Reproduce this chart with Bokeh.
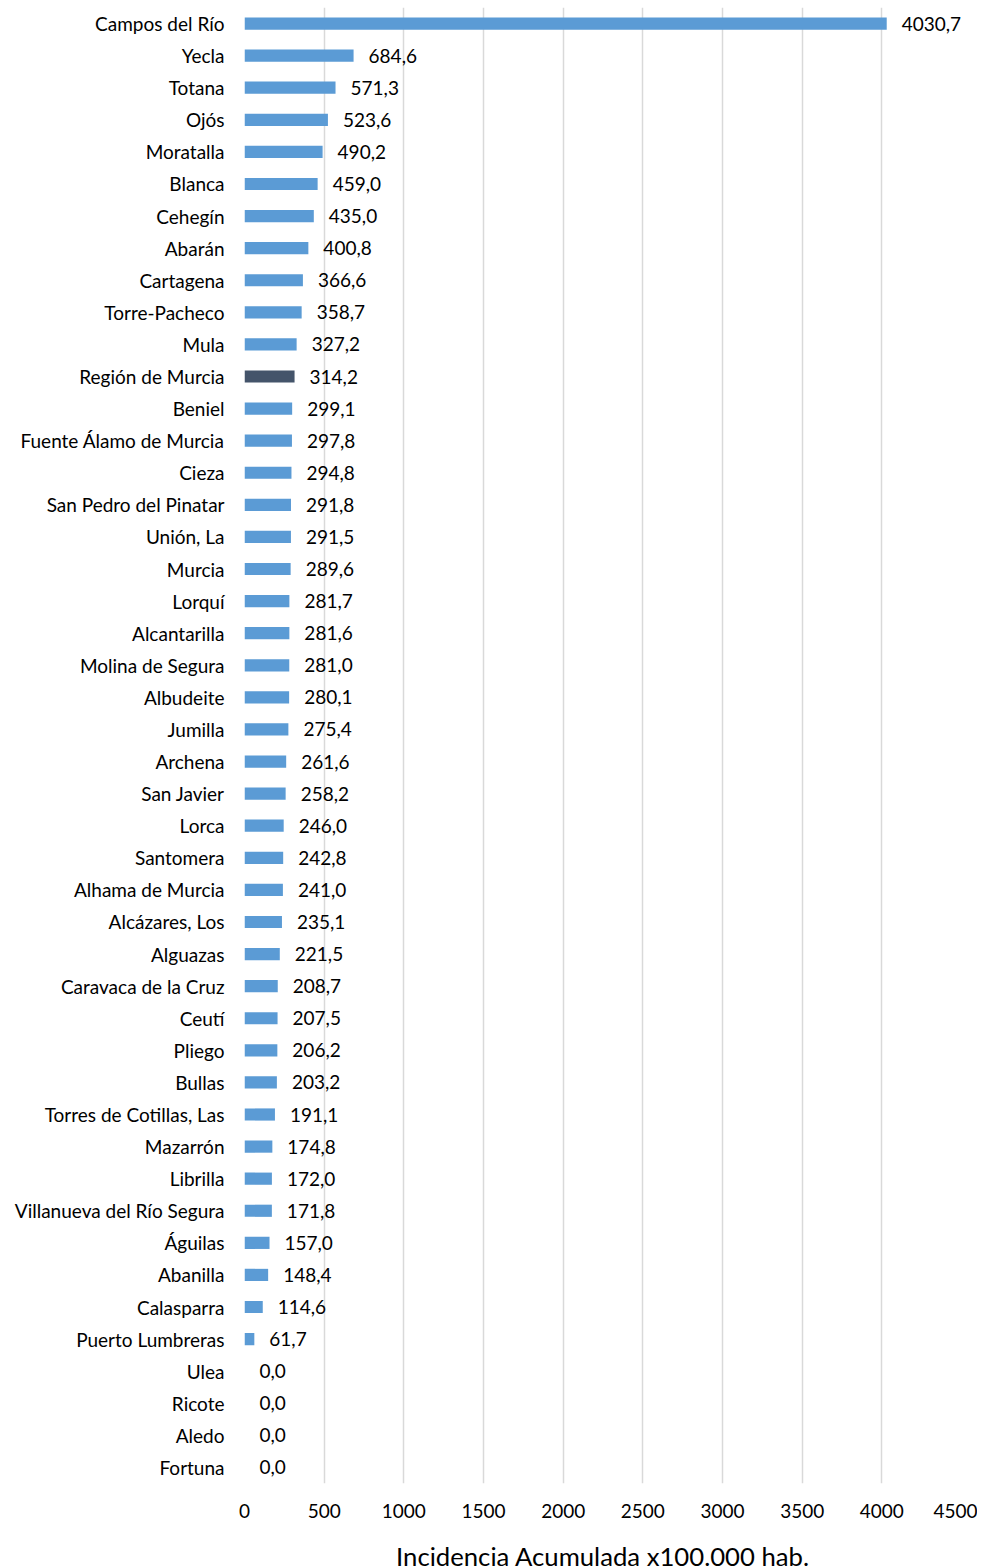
from bokeh.plotting import figure
from bokeh.models import ColumnDataSource, FactorRange, Range1d, FixedTicker, LabelSet
from bokeh.core.properties import value
from bokeh.embed import file_html
from bokeh.resources import INLINE

municipios = ["Campos del Río", "Yecla", "Totana", "Ojós", "Moratalla", "Blanca", "Cehegín",
              "Abarán", "Cartagena", "Torre-Pacheco", "Mula", "Región de Murcia", "Beniel",
              "Fuente Álamo de Murcia", "Cieza", "San Pedro del Pinatar", "Unión, La", "Murcia",
              "Lorquí", "Alcantarilla", "Molina de Segura", "Albudeite", "Jumilla", "Archena",
              "San Javier", "Lorca", "Santomera", "Alhama de Murcia", "Alcázares, Los",
              "Alguazas", "Caravaca de la Cruz", "Ceutí", "Pliego", "Bullas",
              "Torres de Cotillas, Las", "Mazarrón", "Librilla", "Villanueva del Río Segura",
              "Águilas", "Abanilla", "Calasparra", "Puerto Lumbreras", "Ulea", "Ricote",
              "Aledo", "Fortuna"]
incidencia = [4030.7, 684.6, 571.3, 523.6, 490.2, 459.0, 435.0, 400.8, 366.6, 358.7, 327.2,
              314.2, 299.1, 297.8, 294.8, 291.8, 291.5, 289.6, 281.7, 281.6, 281.0, 280.1,
              275.4, 261.6, 258.2, 246.0, 242.8, 241.0, 235.1, 221.5, 208.7, 207.5, 206.2,
              203.2, 191.1, 174.8, 172.0, 171.8, 157.0, 148.4, 114.6, 61.7, 0.0, 0.0, 0.0, 0.0]
x_ticks = [0, 500, 1000, 1500, 2000, 2500, 3000, 3500, 4000, 4500]

FONT = "Lato"
colors = ["#44546A" if m == "Región de Murcia" else "#5B9BD5" for m in municipios]
labels = [f"{v:.1f}".replace(".", ",") for v in incidencia]

src = ColumnDataSource(dict(m=municipios, v=incidencia, c=colors, t=labels))

p = figure(frame_width=717, frame_height=1476, output_backend="svg", toolbar_location=None,
           y_range=FactorRange(factors=list(reversed(municipios)), range_padding=0),
           x_range=Range1d(0, 4500),
           min_border_left=244, min_border_right=16, min_border_top=7, min_border_bottom=77)

p.hbar(y="m", right="v", left=0, height=0.38, fill_color="c", line_color=None, source=src)

p.add_layout(LabelSet(x="v", y="m", text="t", source=src, x_offset=15, y_offset=0,
                      text_baseline="middle", text_align="left", text_font=value(FONT),
                      text_font_size="19px", text_color="#000000"))

p.outline_line_color = None
p.ygrid.grid_line_color = None
p.xgrid.grid_line_color = "#D9D9D9"
p.xgrid.grid_line_width = 1.5
p.xgrid.ticker = FixedTicker(ticks=x_ticks)

p.xaxis.ticker = FixedTicker(ticks=x_ticks)
p.xaxis.axis_line_color = None
p.xaxis.major_tick_line_color = None
p.xaxis.minor_tick_line_color = None
p.xaxis.major_label_text_font = FONT
p.xaxis.major_label_text_font_size = "19px"
p.xaxis.major_label_text_color = "#000000"
p.xaxis.major_label_standoff = 14
p.xaxis.axis_label = "Incidencia Acumulada x100.000 hab."
p.xaxis.axis_label_text_font = FONT
p.xaxis.axis_label_text_font_size = "25.7px"
p.xaxis.axis_label_text_font_style = "normal"
p.xaxis.axis_label_text_color = "#000000"
p.xaxis.axis_label_standoff = 20

p.yaxis.axis_line_color = None
p.yaxis.major_tick_line_color = None
p.yaxis.minor_tick_line_color = None
p.yaxis.major_label_text_font = FONT
p.yaxis.major_label_text_font_size = "19px"
p.yaxis.major_label_text_color = "#000000"
p.yaxis.major_label_standoff = 14

open("out.html", "w").write(file_html(p, INLINE))
